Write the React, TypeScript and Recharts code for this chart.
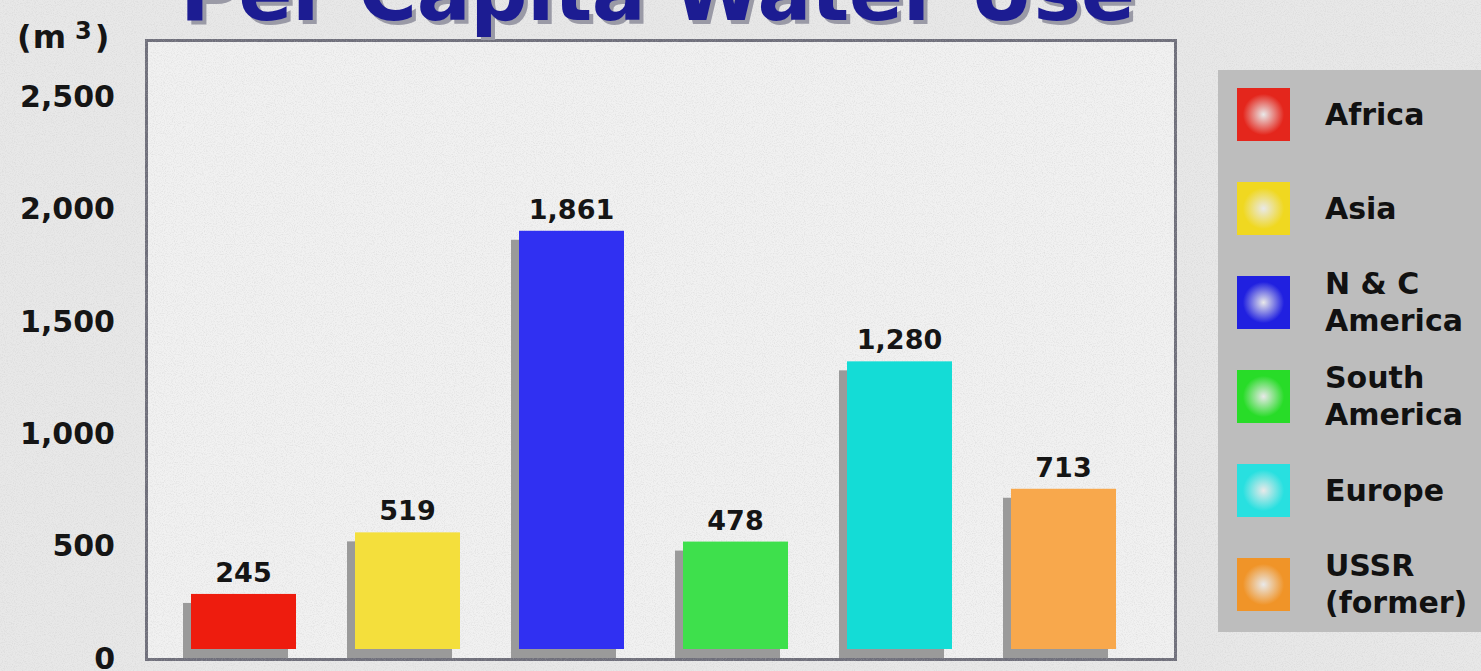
import { Bar, BarChart, Cell, LabelList, XAxis, YAxis } from "recharts";

const regions = ["Africa", "Asia", "N & C\nAmerica", "South\nAmerica", "Europe", "USSR\n(former)"];
const perCapitaUse = [245, 519, 1861, 478, 1280, 713];
const barColors = ["#ee1c0e", "#f4df3c", "#3030f2", "#3ee04c", "#14dcd6", "#f8a84c"];
const swatchColors = ["#e4261c", "#f0d820", "#2020e0", "#28dc28", "#28e0e0", "#f09428"];
const yTicks = [0, 500, 1000, 1500, 2000, 2500];

const data = regions.map((name, i) => ({ name, value: perCapitaUse[i] }));

const FONT = "'DejaVu Sans', Verdana, sans-serif";

function ShadowBar(props: any) {
    const { x, y, width, height, index } = props;
    return (
        <g>
            <rect x={x} y={y} width={width} height={height} fill="#9a9a9a" />
            <rect x={x + 8} y={y - 9} width={width} height={height} fill={barColors[index]} />
        </g>
    );
}

function ValueLabel(props: any) {
    const { x, y, width, value } = props;
    return (
        <text
            x={x + 8 + width / 2}
            y={y - 21}
            textAnchor="middle"
            fontFamily={FONT}
            fontWeight="bold"
            fontSize={27}
            fill="#151515"
        >
            {Number(value).toLocaleString("en-US")}
        </text>
    );
}

// speckled paper look of the source image
function Speckle({ opacity }: { opacity: number }) {
    return (
        <svg width={1481} height={671} style={{ position: "absolute", left: 0, top: 0, opacity }}>
            <filter id="speckle">
                <feTurbulence type="fractalNoise" baseFrequency="0.9" numOctaves={2} seed={3} />
                <feColorMatrix type="matrix" values="0 0 0 0 0.55  0 0 0 0 0.55  0 0 0 0 0.55  0 0 0 -2.2 1.25" />
            </filter>
            <rect width={1481} height={671} filter="url(#speckle)" />
        </svg>
    );
}

export default function App() {
    return (
        <div
            style={{
                position: "absolute",
                left: 0,
                top: 0,
                width: 1481,
                height: 671,
                overflow: "hidden",
                background: "#e8e8e8",
                fontFamily: FONT,
            }}
        >
            {/* plot frame */}
            <div
                style={{
                    position: "absolute",
                    left: 145,
                    top: 39,
                    width: 1026,
                    height: 616,
                    border: "3px solid #6e6e7a",
                    background: "#f1f1f1",
                }}
            />
            <Speckle opacity={0.35} />

            {/* title, cut by the top edge as in the source */}
            <svg width={1481} height={40} style={{ position: "absolute", left: 0, top: 0 }}>
                <text
                    x={184}
                    y={24}
                    fontFamily={FONT}
                    fontWeight="bold"
                    fontSize={80}
                    fill="#9a9aa6"
                    textLength={955}
                >
                    Per Capita Water Use
                </text>
                <text
                    x={180}
                    y={20}
                    fontFamily={FONT}
                    fontWeight="bold"
                    fontSize={80}
                    fill="#1c1c92"
                    textLength={955}
                >
                    Per Capita Water Use
                </text>
            </svg>

            <div
                style={{
                    position: "absolute",
                    left: 17,
                    top: 12,
                    fontSize: 32,
                    fontWeight: "bold",
                    color: "#151515",
                    lineHeight: "38px",
                    letterSpacing: 1,
                }}
            >
                (m<sup style={{ fontSize: 24, verticalAlign: "9px", marginLeft: 8, marginRight: 2 }}>3</sup>)
            </div>

            <div style={{ position: "absolute", left: 0, top: 0 }}>
                <BarChart
                    width={1481}
                    height={671}
                    data={data}
                    margin={{ top: 40, right: 306, bottom: 13, left: 0 }}
                    barSize={105}
                >
                    <XAxis dataKey="name" hide padding={{ left: 6, right: 38 }} />
                    <YAxis
                        width={147}
                        domain={[0, 2750]}
                        ticks={yTicks}
                        interval={0}
                        axisLine={false}
                        tickLine={false}
                        tickSize={0}
                        tickMargin={32}
                        tickFormatter={(v: number) => v.toLocaleString("en-US")}
                        tick={{ fontSize: 30, fontWeight: "bold", fill: "#151515", fontFamily: FONT }}
                    />
                    <Bar dataKey="value" shape={<ShadowBar />} isAnimationActive={false}>
                        {data.map((d, i) => (
                            <Cell key={d.name} fill={barColors[i]} />
                        ))}
                        <LabelList dataKey="value" content={<ValueLabel />} />
                    </Bar>
                </BarChart>
            </div>

            {/* legend */}
            <div
                style={{
                    position: "absolute",
                    left: 1218,
                    top: 70,
                    width: 280,
                    height: 562,
                    background: "#bdbdbd",
                }}
            >
                {regions.map((r, i) => (
                    <div
                        key={r}
                        style={{
                            position: "absolute",
                            left: 0,
                            top: 16 + i * 94,
                            height: 56,
                            display: "flex",
                            alignItems: "center",
                        }}
                    >
                        <div
                            style={{
                                width: 53,
                                height: 53,
                                marginLeft: 19,
                                background: `radial-gradient(circle, #ffffffaa 0%, ${swatchColors[i]} 55%)`,
                            }}
                        />
                        <div
                            style={{
                                marginLeft: 35,
                                whiteSpace: "pre-line",
                                fontSize: 30,
                                fontWeight: "bold",
                                color: "#111",
                                lineHeight: "37px",
                            }}
                        >
                            {r}
                        </div>
                    </div>
                ))}
            </div>
        </div>
    );
}
